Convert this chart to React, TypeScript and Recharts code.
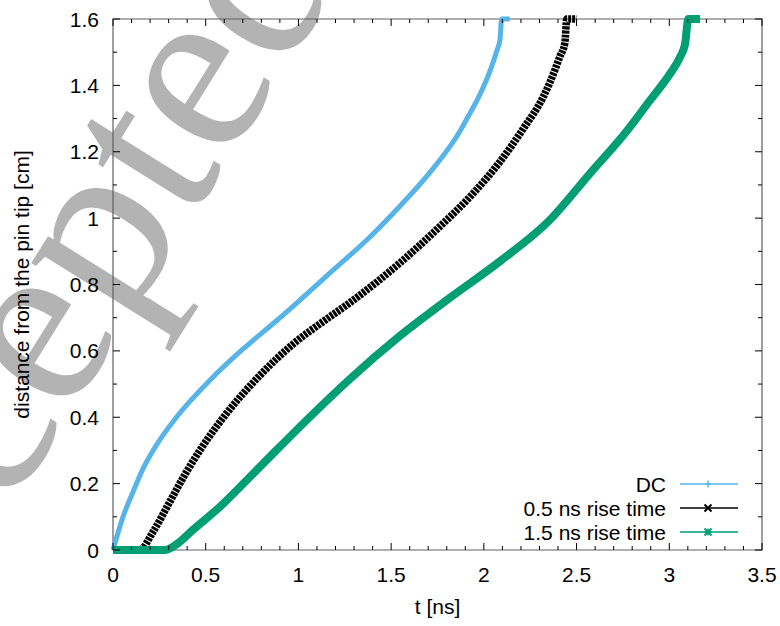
import React from 'react';
import { LineChart, Line, XAxis, YAxis, ReferenceArea, Legend, Label } from 'recharts';

// plot frame (pixels) – used for the inward gnuplot-style ticks
const W = 780;
const H = 626;
const PLOT_LEFT = 113;
const PLOT_RIGHT = 762;
const PLOT_TOP = 19;
const PLOT_BOTTOM = 550;
const FONT = '"Liberation Sans", Arial, sans-serif';

// axis ticks
const xMajor = [0, 0.5, 1, 1.5, 2, 2.5, 3, 3.5];
const xMinor = [0.1, 0.2, 0.3, 0.4, 0.6, 0.7, 0.8, 0.9, 1.1, 1.2, 1.3, 1.4, 1.6, 1.7, 1.8, 1.9, 2.1, 2.2, 2.3, 2.4, 2.6, 2.7, 2.8, 2.9, 3.1, 3.2, 3.3, 3.4];
const yMajor = [0, 0.2, 0.4, 0.6, 0.8, 1, 1.2, 1.4, 1.6];
const yMinor = [0.1, 0.3, 0.5, 0.7, 0.9, 1.1, 1.3, 1.5];

// DC
const dcT = [0, 0.054, 0.108, 0.162, 0.25, 0.342, 0.52, 0.7, 0.88, 1.01, 1.19, 1.37, 1.547, 1.727, 1.871, 1.907, 1.979, 2.033, 2.069, 2.087, 2.096, 2.14];
const dcD = [0, 0.1, 0.175, 0.245, 0.33, 0.4, 0.51, 0.605, 0.69, 0.754, 0.845, 0.935, 1.036, 1.15, 1.262, 1.298, 1.373, 1.443, 1.503, 1.538, 1.6, 1.6];

// 0.5 ns rise time
const r05T = [0, 0.144, 0.216, 0.306, 0.396, 0.486, 0.61, 0.79, 0.97, 1.15, 1.277, 1.547, 1.763, 1.943, 2.087, 2.213, 2.32, 2.357, 2.41, 2.437, 2.447, 2.5];
const r05D = [0, 0, 0.055, 0.145, 0.235, 0.315, 0.41, 0.525, 0.62, 0.695, 0.745, 0.865, 0.975, 1.075, 1.17, 1.27, 1.365, 1.41, 1.487, 1.528, 1.6, 1.6];

// 1.5 ns rise time
const r15T = [0, 0.28, 0.35, 0.43, 0.576, 0.738, 0.88, 1.06, 1.277, 1.547, 1.817, 2.087, 2.357, 2.573, 2.77, 2.896, 3.004, 3.058, 3.085, 3.103, 3.166];
const r15D = [0, 0, 0.02, 0.06, 0.13, 0.22, 0.3, 0.4, 0.515, 0.645, 0.76, 0.87, 0.995, 1.135, 1.262, 1.355, 1.435, 1.485, 1.525, 1.6, 1.6];

const zip = (t: number[], d: number[]) => t.map((v, i) => ({ t: v, d: d[i] }));
const dcData = zip(dcT, dcD);
const r05Data = zip(r05T, r05D);
const r15Data = zip(r15T, r15D);

const BLUE = '#56b4e9';
const BLACK = '#000000';
const GREEN = '#009e73';
const FRAME = '#606060';

const seriesNames = ['DC', '0.5 ns rise time', '1.5 ns rise time'];
const seriesColors = [BLUE, BLACK, GREEN];
const seriesMarkers = ['plus', 'cross', 'star'];

const isMajor = (v: number, step: number) => Math.abs(v / step - Math.round(v / step)) < 1e-6;
const fmt = (v: number) => String(Math.round(v * 10) / 10);

const XTick = (props: any) => {
  const { x, payload } = props;
  const major = isMajor(payload.value, 0.5);
  const len = major ? 7 : 4;
  return (
    <g>
      <line x1={x} x2={x} y1={PLOT_BOTTOM} y2={PLOT_BOTTOM - len} stroke="#000" />
      <line x1={x} x2={x} y1={PLOT_TOP} y2={PLOT_TOP + len} stroke="#000" />
      {major && (
        <text x={x} y={PLOT_BOTTOM + 32} textAnchor="middle" fontSize={21} fontFamily={FONT} fill="#000">
          {fmt(payload.value)}
        </text>
      )}
    </g>
  );
};

const YTick = (props: any) => {
  const { y, payload } = props;
  const major = isMajor(payload.value, 0.2);
  const len = major ? 7 : 4;
  return (
    <g>
      <line x1={PLOT_LEFT} x2={PLOT_LEFT + len} y1={y} y2={y} stroke="#000" />
      <line x1={PLOT_RIGHT} x2={PLOT_RIGHT - len} y1={y} y2={y} stroke="#000" />
      {major && (
        <text x={PLOT_LEFT - 14} y={y} dy="0.36em" textAnchor="end" fontSize={21} fontFamily={FONT} fill="#000">
          {fmt(payload.value)}
        </text>
      )}
    </g>
  );
};

// legend markers
const Marker = ({ kind, cx, cy, color }: { kind: string; cx: number; cy: number; color: string }) => {
  const r = 3.5;
  const plus = (
    <>
      <line x1={cx - r} x2={cx + r} y1={cy} y2={cy} stroke={color} strokeWidth={1.5} />
      <line x1={cx} x2={cx} y1={cy - r} y2={cy + r} stroke={color} strokeWidth={1.5} />
    </>
  );
  const cross = (
    <>
      <line x1={cx - r} x2={cx + r} y1={cy - r} y2={cy + r} stroke={color} strokeWidth={2} />
      <line x1={cx - r} x2={cx + r} y1={cy + r} y2={cy - r} stroke={color} strokeWidth={2} />
    </>
  );
  if (kind === 'plus') return plus;
  if (kind === 'cross') return cross;
  return (
    <>
      {plus}
      {cross}
    </>
  );
};

const LegendBox = () => (
  <svg width={260} height={76} style={{ display: 'block' }}>
    {seriesNames.map((name, i) => {
      const cy = 14 + i * 24;
      return (
        <g key={name}>
          <text x={166} y={cy} dy="0.36em" textAnchor="end" fontSize={21} fontFamily={FONT} fill="#000">
            {name}
          </text>
          <line x1={180} x2={238} y1={cy} y2={cy} stroke={seriesColors[i]} strokeWidth={1.5} />
          <Marker kind={seriesMarkers[i]} cx={208} cy={cy} color={seriesColors[i]} />
        </g>
      );
    })}
  </svg>
);

const App = () => {
  return (
    <div style={{ position: 'absolute', left: 0, top: 0, width: W, height: H, background: '#fff' }}>
      {/* "Accepted" watermark behind the plot */}
      <svg width={W} height={H} style={{ position: 'absolute', left: 0, top: 0 }}>
        <text
          x={-143}
          y={754}
          transform="rotate(-58 -143 754)"
          fontSize={245}
          fontFamily='"Liberation Serif", "Times New Roman", serif'
          fill="#b3b3b3"
        >
          Accepted
        </text>
      </svg>
      <div style={{ position: 'absolute', left: 0, top: 0 }}>
        <LineChart width={W} height={H} margin={{ top: PLOT_TOP, right: W - PLOT_RIGHT, bottom: 0, left: 0 }}>
          <XAxis
            dataKey="t"
            type="number"
            domain={[0, 3.5]}
            ticks={[...xMajor, ...xMinor].sort((a, b) => a - b)}
            interval={0}
            height={H - PLOT_BOTTOM}
            axisLine={false}
            tickLine={false}
            tick={(p: any) => <XTick {...p} />}
          >
            <Label
              content={() => (
                <text x={(PLOT_LEFT + PLOT_RIGHT) / 2} y={614} textAnchor="middle" fontSize={21} fontFamily={FONT} fill="#000">
                  t [ns]
                </text>
              )}
            />
          </XAxis>
          <YAxis
            type="number"
            domain={[0, 1.6]}
            ticks={[...yMajor, ...yMinor].sort((a, b) => a - b)}
            interval={0}
            width={PLOT_LEFT}
            axisLine={false}
            tickLine={false}
            tick={(p: any) => <YTick {...p} />}
          >
            <Label
              content={() => (
                <text
                  x={29}
                  y={(PLOT_TOP + PLOT_BOTTOM) / 2}
                  transform={`rotate(-90 29 ${(PLOT_TOP + PLOT_BOTTOM) / 2})`}
                  textAnchor="middle"
                  fontSize={21}
                  fontFamily={FONT}
                  fill="#000"
                >
                  distance from the pin tip [cm]
                </text>
              )}
            />
          </YAxis>
          <ReferenceArea x1={0} x2={3.5} y1={0} y2={1.6} fill="none" stroke={FRAME} strokeWidth={1.2} />
          <Legend
            content={<LegendBox />}
            layout="vertical"
            align="center"
            verticalAlign="middle"
            wrapperStyle={{ left: 500, top: 470, width: 260 }}
          />
          <Line
            name="DC"
            data={dcData}
            dataKey="d"
            type="monotone"
            stroke={BLUE}
            strokeWidth={5}
            dot={false}
            isAnimationActive={false}
          />
          <Line
            name="0.5 ns rise time"
            data={r05Data}
            dataKey="d"
            type="monotone"
            stroke={BLACK}
            strokeWidth={7.5}
            strokeDasharray="3 1"
            dot={false}
            isAnimationActive={false}
          />
          <Line
            name="1.5 ns rise time"
            data={r15Data}
            dataKey="d"
            type="monotone"
            stroke={GREEN}
            strokeWidth={8}
            dot={false}
            isAnimationActive={false}
          />
        </LineChart>
      </div>
    </div>
  );
};

export default App;
